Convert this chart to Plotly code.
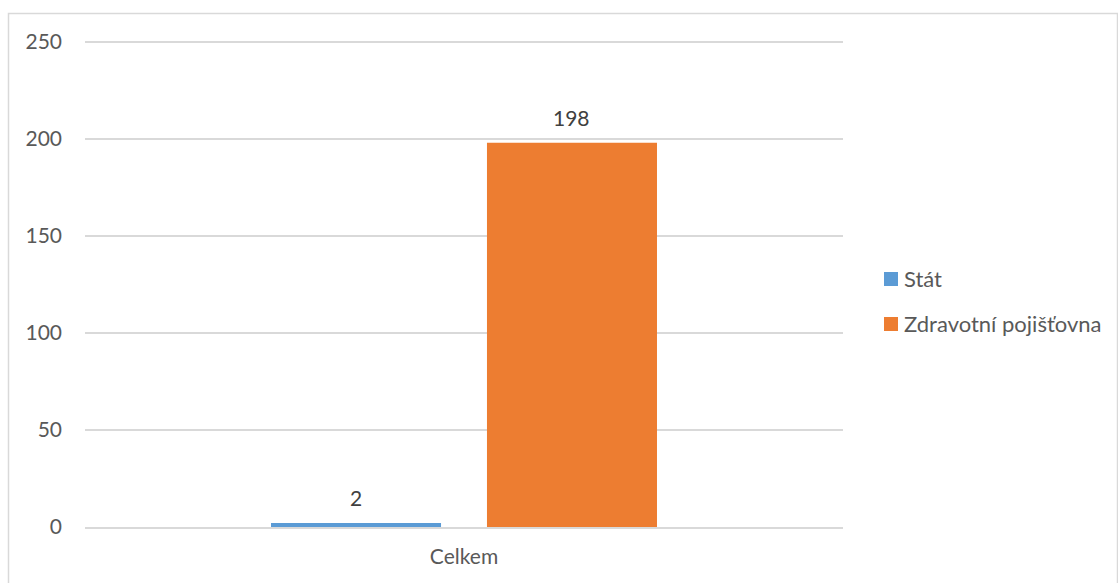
import plotly.graph_objects as go

categories = ["Celkem"]
stat_values = [2]
pojistovna_values = [198]
series_names = ["Stát", "Zdravotní pojišťovna"]
series_colors = ["#5b9bd5", "#ed7d31"]
y_ticks = [0, 50, 100, 150, 200, 250]

W, H = 1118, 583
L, R, T, B = 85, 275, 38, 56
pw, ph = W - L - R, H - T - B

font_family = "Lato, Carlito, Calibri, sans-serif"
label_color = "#595959"
value_color = "#404040"
grid_color = "#d9d9d9"
fsize = 21

# bar geometry in category units (one category spans 1.0)
bar_width = 0.2243
bar_offsets = [-0.2546, 0.0303]

def px_x(p):
    return (p - L) / pw

def px_y(p):
    return (H - B - p) / ph

fig = go.Figure()
series_values = [stat_values, pojistovna_values]
for name, vals, color, off in zip(series_names, series_values, series_colors, bar_offsets):
    fig.add_trace(go.Bar(
        x=categories, y=vals, name=name,
        marker=dict(color=color, line=dict(width=0)),
        width=bar_width, offset=off, showlegend=False,
    ))
    # value labels above each bar
    for i, v in enumerate(vals):
        fig.add_annotation(
            x=i + off + bar_width / 2, y=v, xref="x", yref="y",
            text=str(v), showarrow=False, yanchor="bottom", yshift=11,
            font=dict(size=fsize, color=value_color, family=font_family),
        )

# legend drawn as swatches with labels
legend_rows = [278, 323]
for name, color, yc in zip(series_names, series_colors, legend_rows):
    fig.add_shape(type="rect", xref="paper", yref="paper",
                  x0=px_x(884), x1=px_x(898), y0=px_y(yc + 8), y1=px_y(yc - 6),
                  fillcolor=color, line=dict(width=0))
    fig.add_annotation(x=px_x(902), y=px_y(yc), xref="paper", yref="paper",
                       text=name, showarrow=False, xanchor="left", yanchor="middle",
                       font=dict(size=fsize + 1, color=label_color, family=font_family))

# outer chart border
fig.add_shape(type="rect", xref="paper", yref="paper",
              x0=px_x(8.5), x1=px_x(1117.5), y0=px_y(13.5), y1=px_y(640),
              line=dict(color=grid_color, width=1.5), layer="below")

fig.update_layout(
    width=W, height=H,
    margin=dict(l=L, r=R, t=T, b=B, autoexpand=False),
    paper_bgcolor="white", plot_bgcolor="white",
    barmode="group",
    font=dict(family=font_family, size=fsize, color=label_color),
    showlegend=False,
    xaxis=dict(showgrid=False, showline=True, linecolor=grid_color, linewidth=1.5,
               ticks="", tickfont=dict(size=fsize, color=label_color),
               ticklabelstandoff=10, range=[-0.5, 0.5], fixedrange=True),
    yaxis=dict(range=[0, 252], tickvals=y_ticks, showgrid=True, gridcolor=grid_color,
               gridwidth=1.5, zeroline=False, showline=False, ticks="",
               tickfont=dict(size=fsize, color=label_color),
               ticklabelstandoff=22, fixedrange=True),
)

fig.write_html("out.html")
